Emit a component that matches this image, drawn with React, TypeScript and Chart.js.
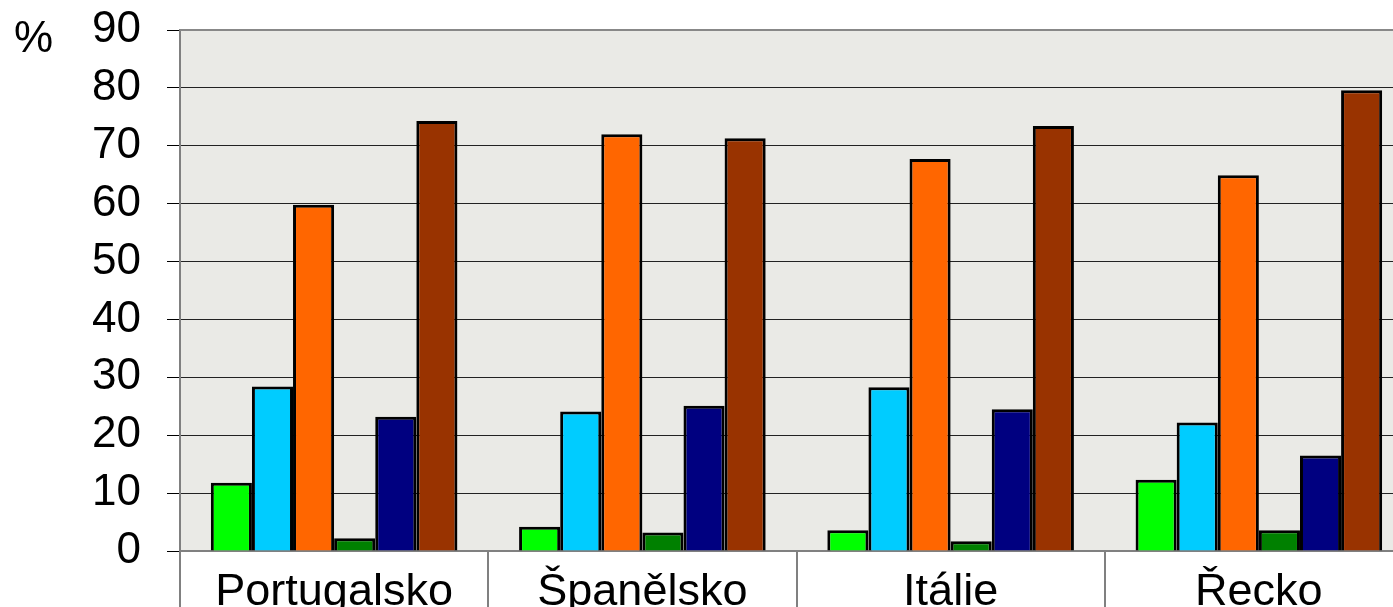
import React, { useEffect, useRef } from "react";
import { Chart, registerables } from "chart.js";

Chart.register(...registerables);

const categories = ["Portugalsko", "Španělsko", "Itálie", "Řecko"];
const series1 = [11.8, 4.2, 3.6, 12.3];
const series2 = [28.4, 24.1, 28.3, 22.2];
const series3 = [59.8, 72.0, 67.7, 64.9];
const series4 = [2.2, 3.2, 1.7, 3.6];
const series5 = [23.2, 25.1, 24.5, 16.5];
const series6 = [74.3, 71.3, 73.4, 79.6];
const yTicks = [0, 10, 20, 30, 40, 50, 60, 70, 80, 90];

const colors = ["#00ff00", "#00ccff", "#ff6600", "#008000", "#000080", "#993300"];
const seriesList = [series1, series2, series3, series4, series5, series6];

const FONT = '"Liberation Sans", Arial, sans-serif';

export default function App() {
  const ref = useRef<HTMLCanvasElement | null>(null);

  useEffect(() => {
    if (!ref.current) return;
    const bgPlugin = {
      id: "bgPlugin",
      beforeDraw(chart: any) {
        const { ctx, chartArea: a } = chart;
        ctx.save();
        ctx.fillStyle = "#eaeae6";
        ctx.fillRect(a.left, a.top, a.right - a.left, a.bottom - a.top);
        ctx.restore();
      },
      afterDraw(chart: any) {
        const { ctx, chartArea: a } = chart;
        ctx.save();
        ctx.strokeStyle = "#888888";
        ctx.lineWidth = 2;
        ctx.beginPath();
        ctx.moveTo(a.left, a.top);
        ctx.lineTo(a.right, a.top);
        ctx.lineTo(a.right, a.bottom);
        ctx.stroke();
        ctx.fillStyle = "#000";
        ctx.font = "44px " + FONT;
        ctx.textBaseline = "middle";
        ctx.textAlign = "left";
        ctx.fillText("%", 14, 40);
        ctx.restore();
      },
    };

    const chart = new Chart(ref.current, {
      type: "bar",
      data: {
        labels: categories,
        datasets: seriesList.map((d, i) => ({
          label: "Řada " + (i + 1),
          data: d,
          backgroundColor: colors[i],
          borderColor: "#000000",
          borderWidth: 3,
          barPercentage: 1.0,
          categoryPercentage: 0.8,
        })),
      },
      options: {
        responsive: false,
        animation: false,
        layout: { padding: { top: 0, left: 0, right: 0, bottom: 0 } },
        plugins: { legend: { display: false }, tooltip: { enabled: false } },
        scales: {
          x: {
            afterFit(scale: any) {
              scale.height = 109;
            },
            grid: {
              offset: true,
              drawOnChartArea: false,
              drawTicks: true,
              tickLength: 70,
              color: "#808080",
              lineWidth: 2,
            },
            border: { display: true, color: "#808080", width: 2 },
            ticks: {
              padding: -55,
              color: "#000",
              font: { family: FONT, size: 45 },
              maxRotation: 0,
              autoSkip: false,
            },
          },
          y: {
            min: 0,
            max: 90,
            afterFit(scale: any) {
              scale.width = 180;
              scale.paddingTop = 30;
              scale.paddingBottom = 26;
            },
            afterBuildTicks(scale: any) {
              scale.ticks = yTicks.map((v) => ({ value: v }));
            },
            grid: {
              color: "#222222",
              lineWidth: 1,
              tickLength: 13,
              tickColor: "#000",
            },
            border: { display: true, color: "#808080", width: 2 },
            ticks: {
              stepSize: 10,
              autoSkip: false,
              padding: 26,
              color: "#000",
              font: { family: FONT, size: 44 },
            },
          },
        },
      },
      plugins: [bgPlugin],
    } as any);
    return () => chart.destroy();
  }, []);

  return (
    <div
      style={{
        position: "fixed",
        left: 0,
        top: 0,
        width: 1393,
        height: 607,
        overflow: "hidden",
        background: "#fff",
      }}
    >
      <canvas ref={ref} width={1413} height={660} style={{ display: "block" }} />
    </div>
  );
}
